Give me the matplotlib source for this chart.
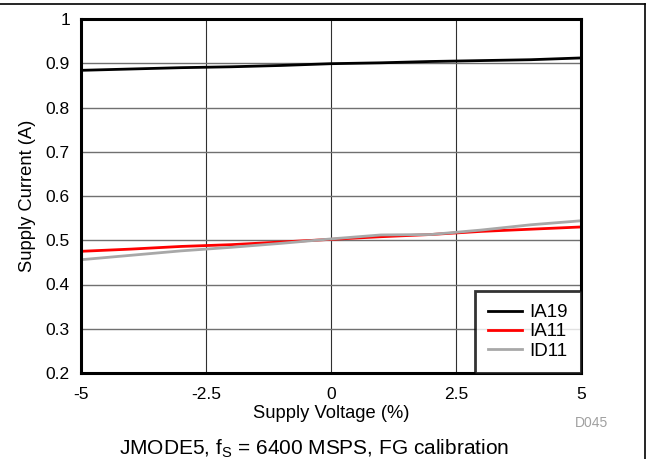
import matplotlib.pyplot as plt
from matplotlib.lines import Line2D

plt.rcParams['font.family'] = ['Liberation Sans', 'DejaVu Sans']

voltage = [-5, -4, -3, -2, -1, 0, 1, 2, 3, 4, 5]
ia19 = [0.884, 0.887, 0.890, 0.892, 0.895, 0.899, 0.901, 0.904, 0.906, 0.908, 0.912]
ia11 = [0.475, 0.480, 0.486, 0.490, 0.496, 0.502, 0.508, 0.513, 0.520, 0.525, 0.530]
id11 = [0.456, 0.466, 0.476, 0.484, 0.493, 0.503, 0.512, 0.513, 0.523, 0.535, 0.544]

fig = plt.figure(figsize=(6.48, 4.59), dpi=100)
ax = fig.add_axes([81 / 648, 1 - 373 / 459, 500 / 648, 354 / 459])

ax.plot(voltage, ia19, color='black', lw=2, label='IA19')
ax.plot(voltage, ia11, color='#ff0000', lw=2, label='IA11')
ax.plot(voltage, id11, color='#a8a8a8', lw=2, label='ID11')

ax.set_xlim(-5, 5)
ax.set_ylim(0.2, 1)
ax.set_xticks([-5, -2.5, 0, 2.5, 5])
ax.set_xticklabels(['-5', '-2.5', '0', '2.5', '5'])
ax.set_yticks([0.2, 0.3, 0.4, 0.5, 0.6, 0.7, 0.8, 0.9, 1])
ax.set_yticklabels(['0.2', '0.3', '0.4', '0.5', '0.6', '0.7', '0.8', '0.9', '1'])
ax.tick_params(length=0, labelsize=12.5)
ax.tick_params(axis='x', pad=10)
ax.tick_params(axis='y', pad=8)
ax.yaxis.grid(True, color='#707070', lw=1)
ax.xaxis.grid(True, color='#303030', lw=0.8)
ax.set_axisbelow(True)
for s in ax.spines.values():
    s.set_linewidth(2.2)

ax.set_xlabel('Supply Voltage (%)', fontsize=13.2, labelpad=2)
ax.set_ylabel('Supply Current (A)', fontsize=13.2, labelpad=7)

leg = ax.legend(loc='lower right', fontsize=13.5, frameon=True, fancybox=False,
                borderaxespad=0, handlelength=1.8, handletextpad=0.4,
                labelspacing=0.12, borderpad=0.7)
leg.get_frame().set_edgecolor('black')
leg.get_frame().set_linewidth(2)

fig.text(592 / 648, 1 - 423 / 459, 'D045', color='#a0a0a0', fontsize=10, ha='center', va='center')
fig.text(314 / 648, 1 - 454 / 459, 'JMODE5, f$_\\mathregular{S}$ = 6400 MSPS, FG calibration',
         fontsize=15, ha='center', va='baseline')

fig.add_artist(Line2D([0, 645 / 648], [1 - 4 / 459, 1 - 4 / 459], color='black', lw=1.2))
fig.add_artist(Line2D([645 / 648, 645 / 648], [0, 1 - 4 / 459], color='black', lw=1.2))

fig.savefig('out.png', dpi=100)
